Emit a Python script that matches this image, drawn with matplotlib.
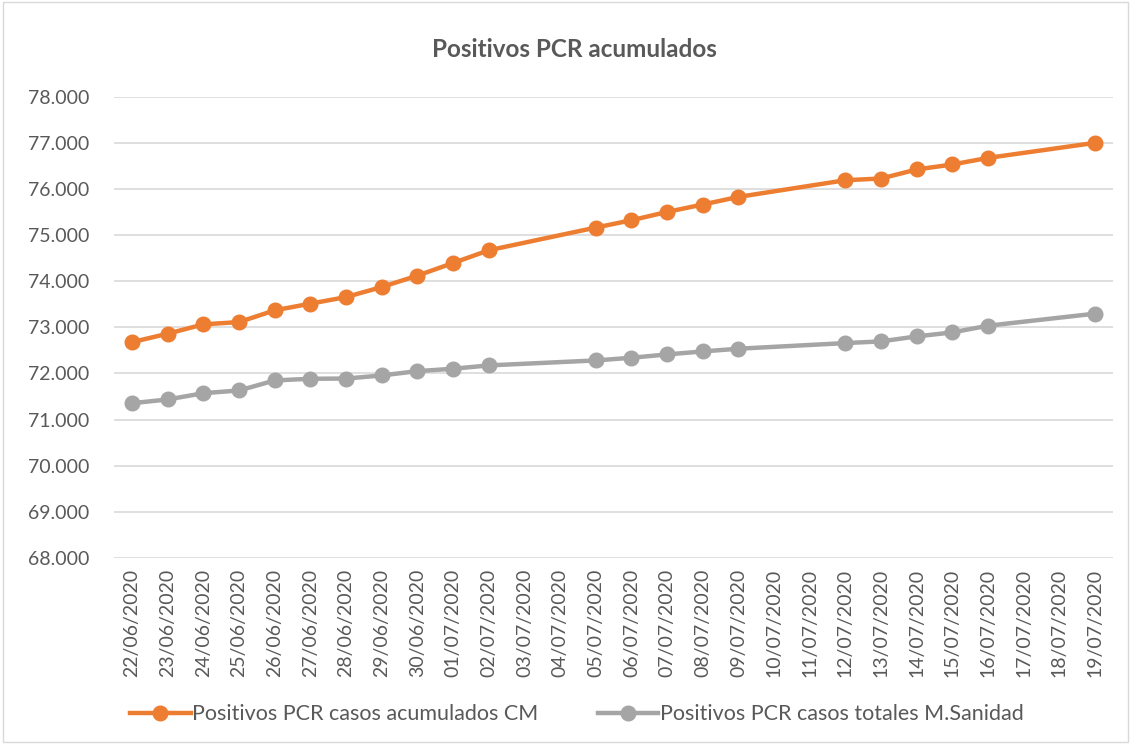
import numpy as np
import matplotlib.pyplot as plt
from matplotlib.patches import Rectangle
from matplotlib.ticker import FuncFormatter

plt.rcParams['font.family'] = ['Lato', 'DejaVu Sans']

# all category labels on the x axis
dates = ['22/06/2020', '23/06/2020', '24/06/2020', '25/06/2020', '26/06/2020',
         '27/06/2020', '28/06/2020', '29/06/2020', '30/06/2020', '01/07/2020',
         '02/07/2020', '03/07/2020', '04/07/2020', '05/07/2020', '06/07/2020',
         '07/07/2020', '08/07/2020', '09/07/2020', '10/07/2020', '11/07/2020',
         '12/07/2020', '13/07/2020', '14/07/2020', '15/07/2020', '16/07/2020',
         '17/07/2020', '18/07/2020', '19/07/2020']

# dates that have a value
data_dates = ['22/06/2020', '23/06/2020', '24/06/2020', '25/06/2020', '26/06/2020',
              '27/06/2020', '28/06/2020', '29/06/2020', '30/06/2020', '01/07/2020',
              '02/07/2020', '05/07/2020', '06/07/2020', '07/07/2020', '08/07/2020',
              '09/07/2020', '12/07/2020', '13/07/2020', '14/07/2020', '15/07/2020',
              '16/07/2020', '19/07/2020']

cm = [72680, 72863, 73065, 73115, 73369, 73514, 73657, 73874, 74122, 74395,
      74671, 75163, 75322, 75502, 75663, 75828, 76190, 76227, 76423, 76531,
      76674, 77000]
sanidad = [71356, 71437, 71573, 71632, 71849, 71886, 71890, 71958, 72051, 72103,
           72175, 72283, 72341, 72413, 72478, 72537, 72659, 72696, 72804, 72891,
           73036, 73297]

x = [dates.index(d) for d in data_dates]

orange = '#ED7D31'
grey = '#A5A5A5'
txt = '#595959'

fig = plt.figure(figsize=(11.31, 7.44), dpi=100)
ax = fig.add_axes([0.101, 0.25, 0.883, 0.62])

ax.plot(x, cm, color=orange, lw=3.2, marker='o', ms=10.5,
        label='Positivos PCR casos acumulados CM', zorder=3)
ax.plot(x, sanidad, color=grey, lw=3.2, marker='o', ms=10.5,
        label='Positivos PCR casos totales M.Sanidad', zorder=3)

ax.set_xlim(-0.5, len(dates) - 0.5)
ax.set_ylim(68000, 78000)
ax.set_yticks(np.arange(68000, 78001, 1000))
ax.yaxis.set_major_formatter(FuncFormatter(lambda v, p: f'{v:,.0f}'.replace(',', '.')))
ax.set_xticks(range(len(dates)))
ax.set_xticklabels(dates, rotation=90)
ax.tick_params(axis='both', length=0, colors=txt, labelsize=14)
ax.tick_params(axis='x', pad=8)
ax.tick_params(axis='y', pad=18)
ax.grid(axis='y', color='#D9D9D9', lw=1.2)
ax.set_axisbelow(True)
for s in ax.spines.values():
    s.set_visible(False)

fig.text(0.508, 0.934, 'Positivos PCR acumulados', ha='center', va='center',
         fontsize=17.5, fontweight='bold', color=txt)

fig.legend(loc='center', bbox_to_anchor=(0.51, 0.04), ncol=2, frameon=False,
           fontsize=15.5, labelcolor=txt, handlelength=2.8, handletextpad=0.05,
           columnspacing=2.8)

fig.add_artist(Rectangle((0.003, 0.003), 0.994, 0.994, transform=fig.transFigure,
                         fill=False, edgecolor='#D9D9D9', lw=1))

fig.savefig('out.png', dpi=100)
